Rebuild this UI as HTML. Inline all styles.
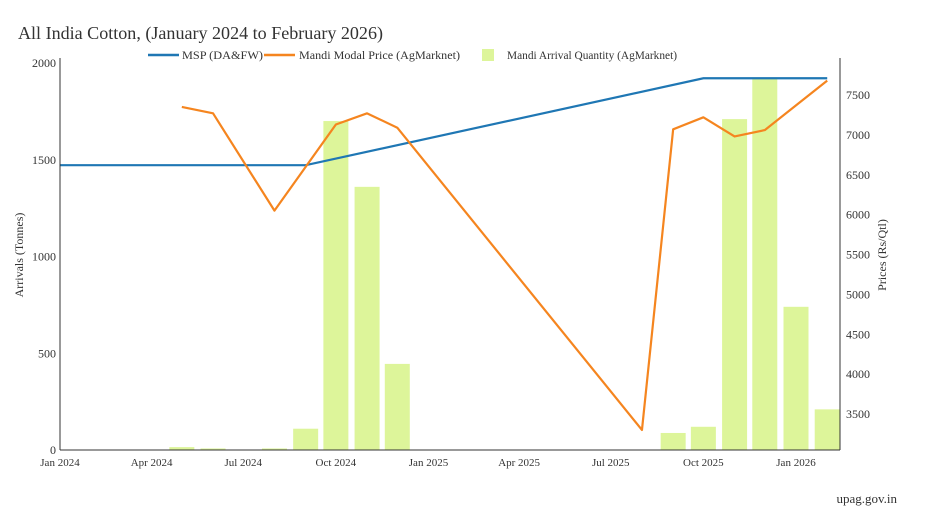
<!DOCTYPE html>
<html><head><meta charset="utf-8"><style>
body{margin:0;background:#fff;}
svg text{font-family:"Liberation Serif",serif;fill:#333;}
</style></head><body>
<svg width="950" height="510" xmlns="http://www.w3.org/2000/svg">
<text x="18" y="39" font-size="18" textLength="365" lengthAdjust="spacingAndGlyphs">All India Cotton, (January 2024 to February 2026)</text>
<g id="legend">
<line x1="148" y1="55" x2="179" y2="55" stroke="#1f77b4" stroke-width="2.5"/>
<text x="182" y="59" font-size="12" textLength="81" lengthAdjust="spacingAndGlyphs">MSP (DA&amp;FW)</text>
<line x1="264" y1="55" x2="295" y2="55" stroke="#f5851f" stroke-width="2.5"/>
<text x="299" y="59" font-size="12" textLength="161" lengthAdjust="spacingAndGlyphs">Mandi Modal Price (AgMarknet)</text>
<rect x="482" y="49" width="12" height="12" fill="#ddf59a"/>
<text x="507" y="59" font-size="12" textLength="170" lengthAdjust="spacingAndGlyphs">Mandi Arrival Quantity (AgMarknet)</text>
</g>
<g id="bars"></g>
<g id="lines"></g>
<g id="axes"></g>
<text transform="translate(23,255) rotate(-90)" text-anchor="middle" font-size="12">Arrivals (Tonnes)</text>
<text transform="translate(886,255) rotate(-90)" text-anchor="middle" font-size="12">Prices (Rs/Qtl)</text>
<text x="897" y="503" text-anchor="end" font-size="13">upag.gov.in</text>
</svg>
<script>
const barMonths=["2024-05","2024-06","2024-08","2024-09","2024-10","2024-11","2024-12","2025-09","2025-10","2025-11","2025-12","2026-01","2026-02"];
const barValues=[15,8,8,110,1700,1360,445,88,120,1710,1920,740,210];
const priceMonths=["2024-05","2024-06","2024-08","2024-10","2024-11","2024-12","2025-08","2025-09","2025-10","2025-11","2025-12","2026-02"];
const priceValues=[7350,7270,6050,7130,7270,7090,3300,7070,7220,6980,7060,7680];
const mspMonths=["2024-01","2024-09","2025-10","2026-02"];
const mspValues=[6620,6620,7710,7710];
const xTicks=["2024-01","2024-04","2024-07","2024-10","2025-01","2025-04","2025-07","2025-10","2026-01"];
const xTickLabels=["Jan 2024","Apr 2024","Jul 2024","Oct 2024","Jan 2025","Apr 2025","Jul 2025","Oct 2025","Jan 2026"];
const leftTicks=[0,500,1000,1500,2000];
const rightTicks=[3500,4000,4500,5000,5500,6000,6500,7000,7500];
const NS="http://www.w3.org/2000/svg";
const t0=Date.UTC(2024,0,1), t1=Date.UTC(2026,0,1);
function x(m){const [y,mo]=m.split("-").map(Number);return 60+(Date.UTC(y,mo-1,1)-t0)/(t1-t0)*736;}
function yL(v){return 450-v*(387/2000);}
function yR(v){return 95+(7500-v)*0.07975;}
function mk(tag,attrs,parent){const e=document.createElementNS(NS,tag);for(const k in attrs)e.setAttribute(k,attrs[k]);document.getElementById(parent).appendChild(e);return e;}
barValues.forEach((v,i)=>{const cx=x(barMonths[i]);const e=mk("rect",{x:cx-12.5,y:yL(v),width:25,height:450-yL(v),fill:"#ddf59a"},"bars");

});
const mp=mk("polyline",{points:mspValues.map((v,i)=>x(mspMonths[i])+","+yR(v)).join(" "),fill:"none",stroke:"#1f77b4","stroke-width":2.2},"lines");


const pp=mk("polyline",{points:priceValues.map((v,i)=>x(priceMonths[i])+","+yR(v)).join(" "),fill:"none",stroke:"#f5851f","stroke-width":2.2,"stroke-linejoin":"round"},"lines");


mk("line",{x1:60,y1:58,x2:60,y2:450,stroke:"#333","stroke-width":1},"axes");
mk("line",{x1:840,y1:58,x2:840,y2:450,stroke:"#333","stroke-width":1},"axes");
mk("line",{x1:60,y1:450,x2:840,y2:450,stroke:"#333","stroke-width":1},"axes");
xTicks.forEach((m,i)=>{const e=mk("text",{x:x(m),y:466,"text-anchor":"middle","font-size":11},"axes");e.textContent=xTickLabels[i];

});
leftTicks.forEach(v=>{const e=mk("text",{x:56,y:yL(v)+4,"text-anchor":"end","font-size":12},"axes");e.textContent=v;

});
rightTicks.forEach(v=>{const e=mk("text",{x:846,y:yR(v)+4,"text-anchor":"start","font-size":12},"axes");e.textContent=v;

});
</script>
</body></html>
